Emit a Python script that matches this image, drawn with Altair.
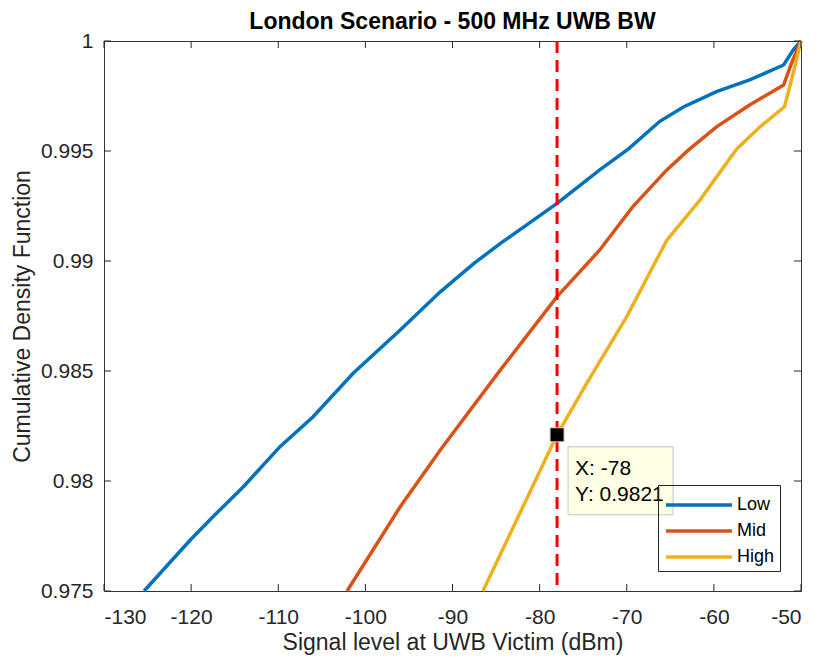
import altair as alt
import pandas as pd

# ---------------- data ----------------
series_names = ["Low", "Mid", "High"]
series_colors = ["#0072BD", "#D95319", "#EDB120"]

low_x = [-125.4, -120.1, -117.1, -114.0, -109.8, -106.0, -101.4, -96.0, -91.4, -87.5, -84.5,
         -78.0, -73.1, -69.8, -66.2, -63.5, -59.7, -55.9, -52.0, -50.9, -50.0]
low_y = [0.97500, 0.97732, 0.97853, 0.97974, 0.98156, 0.98292, 0.98490, 0.98686, 0.98860, 0.98990, 0.99080,
         0.99262, 0.99414, 0.99510, 0.99635, 0.99700, 0.99770, 0.99823, 0.99891, 0.99959, 1.00000]

mid_x = [-102.1, -96.0, -91.4, -84.5, -78.0, -73.1, -69.3, -65.4, -62.9, -59.7, -55.9, -52.0, -51.1, -50.0]
mid_y = [0.97500, 0.97883, 0.98141, 0.98505, 0.98838, 0.99050, 0.99247, 0.99414, 0.99505, 0.99610,
         0.99709, 0.99800, 0.99898, 1.00000]

high_x = [-86.5, -78.0, -74.6, -70.0, -65.4, -61.6, -57.4, -54.7, -51.9, -50.9, -50.0]
high_y = [0.97500, 0.98210, 0.98444, 0.98747, 0.99095, 0.99277, 0.99508, 0.99610, 0.99701, 0.99853, 1.00000]

x_ticks = [-130, -120, -110, -100, -90, -80, -70, -60, -50]
y_ticks = [0.975, 0.98, 0.985, 0.99, 0.995, 1.0]

tip_x = -78
tip_y = 0.9821

title_text = "London Scenario - 500 MHz UWB BW"
x_title = "Signal level at UWB Victim (dBm)"
y_title = "Cumulative Density Function"

# ---------------- tables ----------------
rows = []
for name, xs, ys in zip(series_names, [low_x, mid_x, high_x], [low_y, mid_y, high_y]):
    for xv, yv in zip(xs, ys):
        rows.append({"series": name, "x": xv, "y": yv})
df = pd.DataFrame(rows)
tip_df = pd.DataFrame({"x": [tip_x], "y": [tip_y],
                       "lx": [f"X: {tip_x}"], "ly": [f"Y: {tip_y}"]})
xt_df = pd.DataFrame({"x": x_ticks})
yt_df = pd.DataFrame({"y": y_ticks})

W, H = 697, 550
FONT = "Liberation Sans"
AX = "#262626"

x_scale = alt.Scale(domain=[-130, -50], nice=False, zero=False)
y_scale = alt.Scale(domain=[0.975, 1.0], nice=False, zero=False)

X = alt.X("x:Q", scale=x_scale,
          axis=alt.Axis(values=x_ticks, title=x_title, labelExpr="datum.value + ''",
                        labelPadding=15, titlePadding=4))
Y = alt.Y("y:Q", scale=y_scale,
          axis=alt.Axis(values=y_ticks, title=y_title, labelExpr="datum.value + ''",
                        labelPadding=11, titlePadding=6))

lines = alt.Chart(df).mark_line(strokeWidth=3.5).encode(
    x=X, y=Y,
    color=alt.Color("series:N",
                    scale=alt.Scale(domain=series_names, range=series_colors),
                    sort=series_names,
                    legend=alt.Legend(title=None, orient="none", legendX=554, legendY=444,
                                      symbolType="M-2.54,0H2.54", symbolSize=676,
                                      symbolStrokeWidth=3.5, symbolOffset=21,
                                      labelOffset=23, labelFontSize=18, labelFont=FONT,
                                      labelColor="#000000", padding=5, rowPadding=2,
                                      strokeColor=AX)),
)

vline = alt.Chart(tip_df).mark_rule(color="#FF0000", strokeWidth=3, strokeDash=[12, 7]).encode(
    x=X
)

tip_box = alt.Chart(tip_df).mark_rect(
    fill="#FFFFE6", stroke="#C4C4C4", strokeWidth=1,
    xOffset=11, x2Offset=116, yOffset=12, y2Offset=80
).encode(x=X, x2="x:Q", y=Y, y2="y:Q")

tip_tx = alt.Chart(tip_df).mark_text(
    align="left", baseline="middle", dx=18, dy=34, font=FONT, fontSize=21, color="#000000"
).encode(x=X, y=Y, text="lx:N")
tip_ty = alt.Chart(tip_df).mark_text(
    align="left", baseline="middle", dx=18, dy=60, font=FONT, fontSize=21, color="#000000"
).encode(x=X, y=Y, text="ly:N")

marker = alt.Chart(tip_df).mark_point(
    shape="square", filled=True, size=196, color="#000000", stroke="#D8D8A8", strokeWidth=1, opacity=1
).encode(x=X, y=Y)

TL = 7
tick_bottom = alt.Chart(xt_df).mark_rule(color=AX, strokeWidth=1).encode(
    x=X, y=alt.value(H), y2=alt.value(H - TL))
tick_top = alt.Chart(xt_df).mark_rule(color=AX, strokeWidth=1).encode(
    x=X, y=alt.value(0), y2=alt.value(TL))
tick_left = alt.Chart(yt_df).mark_rule(color=AX, strokeWidth=1).encode(
    y=Y, x=alt.value(0), x2=alt.value(TL))
tick_right = alt.Chart(yt_df).mark_rule(color=AX, strokeWidth=1).encode(
    y=Y, x=alt.value(W), x2=alt.value(W - TL))

chart = alt.layer(
    lines, vline, tick_bottom, tick_top, tick_left, tick_right, tip_box, tip_tx, tip_ty, marker
).properties(
    width=W, height=H,
    title=alt.Title(text=title_text, fontSize=23, fontWeight="bold", font=FONT, color="#000000",
                    anchor="middle", frame="group", offset=8, dy=12),
    autosize=alt.AutoSizeParams(type="none"),
    padding={"left": 96, "top": 33, "right": 10, "bottom": 70},
).configure_view(
    stroke="#333333", strokeWidth=1
).configure_axis(
    domain=False, ticks=False, grid=False,
    labelFont=FONT, labelFontSize=21, labelColor=AX,
    titleFont=FONT, titleFontSize=23, titleFontWeight="normal", titleColor=AX,
)

chart.save("out.html", embed_options={"renderer": "svg", "actions": False})
